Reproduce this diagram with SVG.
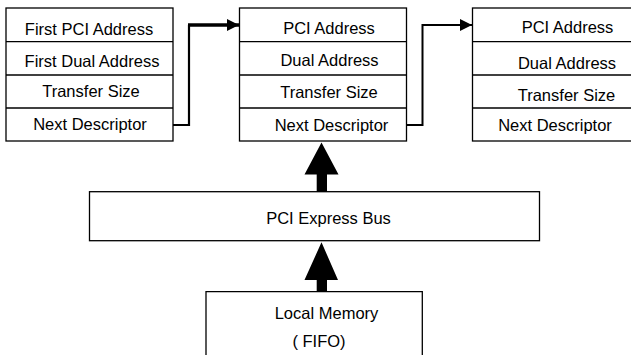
<svg xmlns="http://www.w3.org/2000/svg" width="631" height="355" viewBox="0 0 631 355">
<style>
.box{fill:#fff;stroke:#000;stroke-width:1.3}
.div{stroke:#000;stroke-width:1.3}
text{font-family:"Liberation Sans",Arial,sans-serif;font-size:16.5px;fill:#000;text-anchor:middle}
.link{fill:none;stroke:#000;stroke-linejoin:miter}
</style>
<defs>
<marker id="ah" markerWidth="12" markerHeight="12" refX="12" refY="6" orient="auto" markerUnits="userSpaceOnUse">
<path d="M0,0 L12,6 L0,12 Z" fill="#000"/>
</marker>
</defs>
<rect x="0" y="0" width="631" height="355" fill="#fff"/>
<g id="desc1">
<rect class="box" x="6" y="8" width="167" height="133"/>
<line class="div" x1="6" y1="41.7" x2="173" y2="41.7"/>
<line class="div" x1="6" y1="75" x2="173" y2="75"/>
<line class="div" x1="6" y1="108" x2="173" y2="108"/>
<text x="89" y="34.5">First PCI Address</text>
<text x="92" y="66.5">First Dual Address</text>
<text x="91" y="97">Transfer Size</text>
<text x="90" y="130">Next Descriptor</text>
</g>
<g id="desc2">
<rect class="box" x="239.5" y="8" width="167" height="133"/>
<line class="div" x1="239.5" y1="41.7" x2="406.5" y2="41.7"/>
<line class="div" x1="239.5" y1="75" x2="406.5" y2="75"/>
<line class="div" x1="239.5" y1="108" x2="406.5" y2="108"/>
<text x="329" y="33.5">PCI Address</text>
<text x="329.5" y="65.5">Dual Address</text>
<text x="329" y="98">Transfer Size</text>
<text x="331.5" y="130.5">Next Descriptor</text>
</g>
<g id="desc3">
<rect class="box" x="472.5" y="8" width="190" height="133"/>
<line class="div" x1="472.5" y1="41.7" x2="640" y2="41.7"/>
<line class="div" x1="472.5" y1="75" x2="640" y2="75"/>
<line class="div" x1="472.5" y1="108" x2="640" y2="108"/>
<text x="567.5" y="32.5">PCI Address</text>
<text x="567" y="69">Dual Address</text>
<text x="566.5" y="100.5">Transfer Size</text>
<text x="555" y="130.5">Next Descriptor</text>
</g>
<g id="bus">
<rect class="box" x="89.5" y="191.7" width="450" height="49"/>
<text x="328.5" y="224">PCI Express Bus</text>
</g>
<g id="memory">
<path class="box" d="M206,360 V291.7 H422.3 V360"/>
<text x="326.5" y="318.5">Local Memory</text>
<text x="319" y="346.5">( FIFO)</text>
</g>
<g id="connectors">
<path class="link" d="M173,125 H189 V25" stroke-width="2.2"/>
<path class="link" d="M188,25 H239" stroke-width="3.6" marker-end="url(#ah)"/>
<path class="link" d="M406.5,125 H422.5 V25 H472" stroke-width="2" marker-end="url(#ah)"/>
<path d="M321.5,142.5 L338.5,174.5 H327 V191.7 H316.7 V174.5 H304.5 Z" fill="#000"/>
<path d="M321.5,242.3 L338,280 H327 V291.7 H316.7 V280 H304.5 Z" fill="#000"/>
</g>
</svg>
